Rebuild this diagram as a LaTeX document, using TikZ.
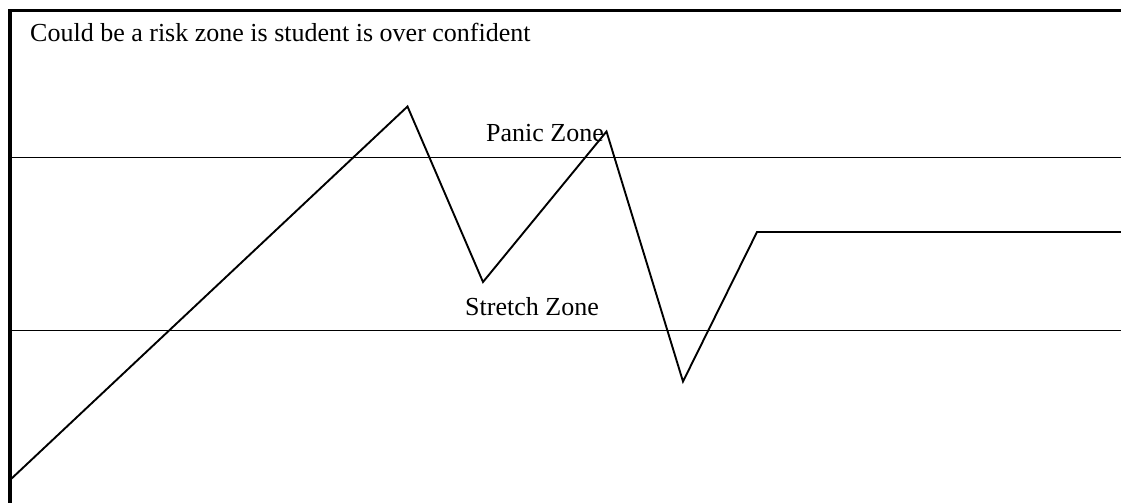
\documentclass[tikz,border=0pt]{standalone}
\usepackage{fontspec}
\setmainfont{Liberation Serif}
\begin{document}
\begin{tikzpicture}[x=1pt,y=-1pt,
  frame/.style={line width=3.5pt,line cap=butt},
  zoneline/.style={line width=1.9pt},
  curve/.style={line width=1.9pt,line join=miter},
  lbl/.style={inner sep=0pt,anchor=base west,font=\fontsize{26}{30}\selectfont}]
\useasboundingbox (0,0) rectangle (1121,503);
% frame (top and left)
\draw[frame] (1121,10.5) -- (10,10.5) -- (10,503);
% zone lines
\draw[zoneline] (10,157.5) -- (1121,157.5);
\draw[zoneline] (10,330.5) -- (1121,330.5);
% texts
\node[lbl] (risk) at (30,41.7) {Could be a risk zone is student is over confident};
\node[lbl] (panic) at (486,141) {Panic Zone};
\node[lbl] (stretch) at (465,315) {Stretch Zone};
% zigzag
\coordinate (p0) at (10,480);
\coordinate (p1) at (407.5,106.5);
\coordinate (p2) at (483,282);
\coordinate (p3) at (606.5,131.5);
\coordinate (p4) at (683,381.5);
\coordinate (p5) at (757,232);
\coordinate (p6) at (1121,232);
\draw[curve] (p0) -- (p1) -- (p2) -- (p3) -- (p4) -- (p5) -- (p6);
\end{tikzpicture}
\end{document}
